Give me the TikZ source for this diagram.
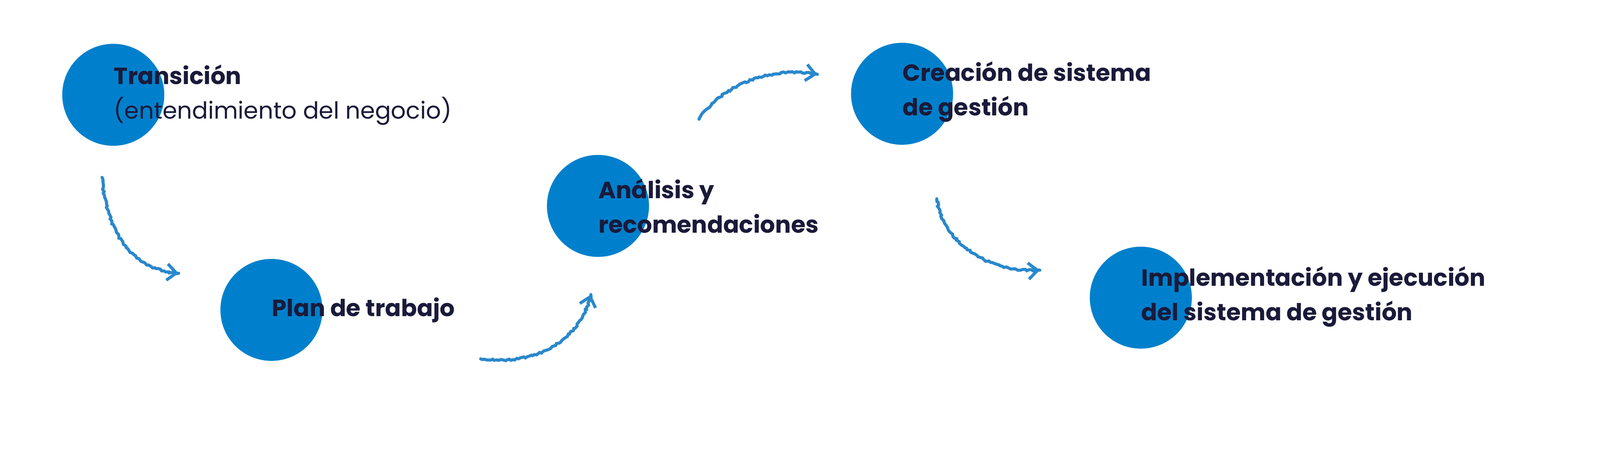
\documentclass[tikz,border=0pt]{standalone}
\usepackage{fontspec}
\setmainfont{Poppins}
\usetikzlibrary{arrows.meta,decorations.pathmorphing}
\definecolor{circblue}{HTML}{0080CC}
\definecolor{arrowblue}{HTML}{2A88CC}
\definecolor{navy}{HTML}{1A1A3A}
\tikzset{
  stepdot/.style={circle, fill=circblue, minimum size=100pt, inner sep=0pt},
  steptext/.style={anchor=west, align=left, text=navy, font=\fontsize{23}{34}\selectfont\bfseries},
  crayon/.style={draw=arrowblue, line width=3pt, line cap=round,
    decorate, decoration={random steps, segment length=2pt, amplitude=0.8pt}},
  crayonhead/.style={draw=arrowblue, line width=3pt, line cap=round, -{Straight Barb[length=9pt,width=16pt]}}
}
\begin{document}
\begin{tikzpicture}[x=1pt,y=-1pt]
        \useasboundingbox (0,0) rectangle (1568,451);

        % circulos
        \node[stepdot] (trans) at (111,93) {};
        \node[stepdot] (plan) at (266,304) {};
        \node[stepdot] (anal) at (586,202) {};
        \node[stepdot] (crea) at (884,92) {};
        \node[stepdot] (impl) at (1118,292) {};

        % textos
        \node[steptext] (transtxt) at (108,93) {Transición\\{\mdseries(entendimiento del negocio)}};
        \node[steptext] (plantxt) at (263,304) {Plan de trabajo};
        \node[steptext] (analtxt) at (583,202) {Análisis y\\recomendaciones};
        \node[steptext] (creatxt) at (881,90) {Creación de sistema\\de gestión};
        \node[steptext] (impltxt) at (1115,291) {Implementación y ejecución\\del sistema de gestión};

        % flechas
        \coordinate (a1s) at (100,174);
        \coordinate (a1e) at (175,268);
        \coordinate (a2s) at (471,352);
        \coordinate (a2e) at (579,289);
        \coordinate (a3s) at (685,117);
        \coordinate (a3e) at (801,73);
        \coordinate (a4s) at (918,195);
        \coordinate (a4e) at (1019,265);

        \draw[crayon] (a1s) .. controls (105,230) and (130,265) .. (a1e);
        \draw[crayonhead] (170,267.5) -- (a1e);
        \draw[crayon] (a2s) .. controls (530,360) and (570,330) .. (a2e);
        \draw[crayonhead] (577,296) -- (a2e);
        \draw[crayon] (a3s) .. controls (710,80) and (760,65) .. (a3e);
        \draw[crayonhead] (795,72) -- (a3e);
        \draw[crayon] (a4s) .. controls (925,240) and (970,268) .. (a4e);
        \draw[crayonhead] (1013,265.5) -- (a4e);
\end{tikzpicture}
\end{document}
